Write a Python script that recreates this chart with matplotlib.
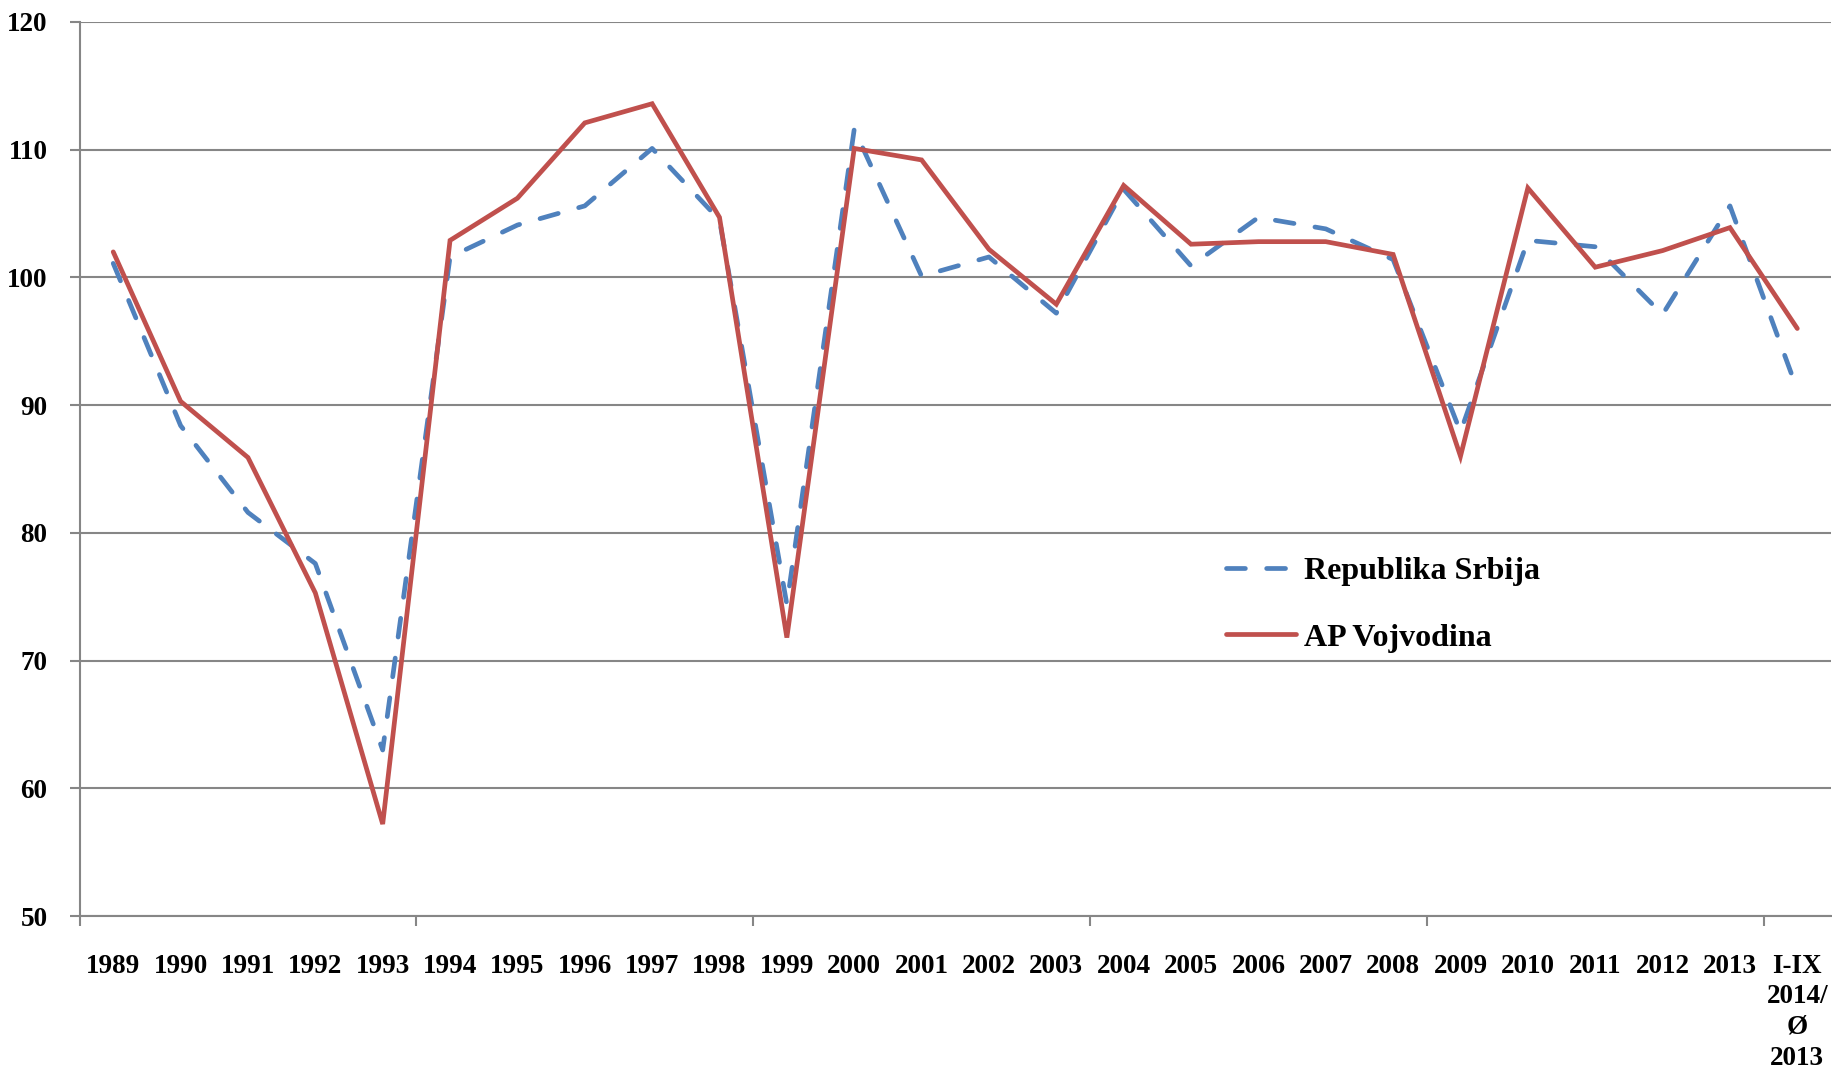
import matplotlib.pyplot as plt
import numpy as np

years = ["1989", "1990", "1991", "1992", "1993", "1994", "1995", "1996", "1997",
         "1998", "1999", "2000", "2001", "2002", "2003", "2004", "2005", "2006",
         "2007", "2008", "2009", "2010", "2011", "2012", "2013", "I-IX\n2014/\nØ\n2013"]

srbija = [101.1, 88.4, 81.6, 77.6, 63.0, 101.6, 104.1, 105.6, 110.1, 104.5,
          74.4, 111.6, 100.1, 101.6, 97.2, 106.9, 100.9, 104.7, 103.8, 101.4,
          87.9, 102.9, 102.4, 97.1, 105.6, 91.2]
vojvodina = [102.0, 90.3, 85.9, 75.3, 57.2, 102.9, 106.2, 112.1, 113.6, 104.7,
             71.8, 110.1, 109.2, 102.2, 97.9, 107.2, 102.6, 102.8, 102.8, 101.8,
             86.0, 107.0, 100.8, 102.1, 103.9, 96.0]

y_ticks = [50, 60, 70, 80, 90, 100, 110, 120]

plt.rcParams['font.family'] = ['Liberation Serif', 'DejaVu Serif']
plt.rcParams['font.weight'] = 'bold'

fig = plt.figure(figsize=(18.33, 10.72), dpi=100)
ax = fig.add_axes([0.0434, 0.1455, 0.9555, 0.834])

x = np.arange(len(years))
grid_col = '#868686'

ax.plot(x, srbija, color='#4F81BD', lw=3.4, linestyle=(0, (4, 4.5)),
        dash_capstyle='round', solid_joinstyle='round', label='Republika Srbija', zorder=3)
ax.plot(x, vojvodina, color='#C0504D', lw=3.4, solid_joinstyle='miter',
        solid_capstyle='round', label='AP Vojvodina', zorder=4)

ax.set_xlim(-0.5, len(years) - 0.5)
ax.set_ylim(50, 120)
ax.set_yticks(y_ticks)
ax.yaxis.grid(True, color=grid_col, lw=1.5)
ax.set_axisbelow(True)

# labels sit on minor ticks, tick marks every 5 categories on major
ax.set_xticks(np.arange(-0.5, len(years), 5))
ax.set_xticklabels([])
ax.set_xticks(x, minor=True)
ax.set_xticklabels(years, minor=True, fontsize=19.5, fontweight='bold',
                   linespacing=1.3, va='top')
ax.tick_params(axis='x', which='major', length=7, width=1.5, color=grid_col)
ax.tick_params(axis='x', which='minor', length=0, pad=27)
ax.tick_params(axis='y', length=7, width=1.5, color=grid_col, pad=16,
               labelsize=19.5)
for lab in ax.get_yticklabels():
    lab.set_fontweight('bold')

for s in ['top', 'right']:
    ax.spines[s].set_visible(False)
for s in ['left', 'bottom']:
    ax.spines[s].set_color(grid_col)
    ax.spines[s].set_linewidth(1.5)

ax.legend(loc='center left', bbox_to_anchor=(0.6689, 0.436),
          bbox_transform=fig.transFigure, frameon=False,
          prop={'size': 23, 'weight': 'bold'}, handlelength=2.2,
          handletextpad=0.25, labelspacing=1.17, borderpad=0, borderaxespad=0)

fig.savefig("out.png", dpi=100)
